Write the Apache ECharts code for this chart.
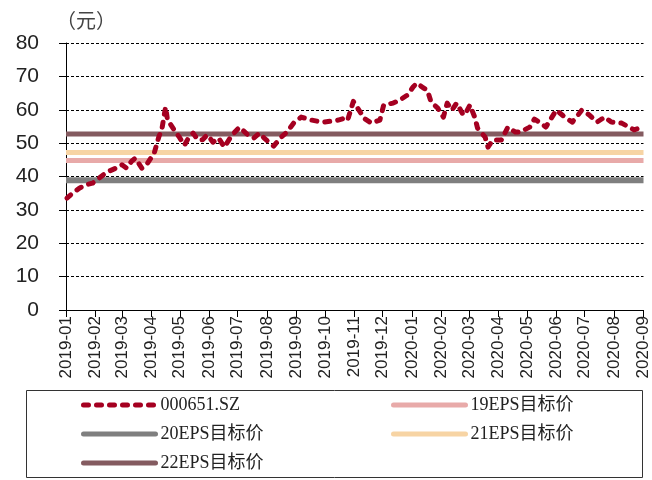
<!DOCTYPE html>
<html>
<head>
<meta charset="utf-8">
<script src="https://cdn.jsdelivr.net/npm/echarts@6/dist/echarts.min.js"></script>
<style>
  html, body { margin: 0; padding: 0; background: #fff; }
  #chart { width: 652px; height: 480px; }
</style>
</head>
<body>
<div id="chart"></div>
<script>
// 股价
const dates = [
  '2019-01-02', '2019-01-08', '2019-01-15', '2019-01-22', '2019-01-29', '2019-02-13', '2019-02-25', '2019-03-01',
  '2019-03-06', '2019-03-11', '2019-03-15', '2019-03-22', '2019-03-28', '2019-04-04', '2019-04-09', '2019-04-12',
  '2019-04-16', '2019-04-18', '2019-04-25', '2019-04-30', '2019-05-06', '2019-05-10', '2019-05-15', '2019-05-20',
  '2019-05-25', '2019-05-30', '2019-06-05', '2019-06-11', '2019-06-17', '2019-06-25', '2019-07-03', '2019-07-12',
  '2019-07-18', '2019-07-24', '2019-07-29', '2019-08-08', '2019-08-16', '2019-08-22', '2019-08-29', '2019-09-06',
  '2019-09-17', '2019-09-24', '2019-09-30', '2019-10-15', '2019-10-22', '2019-10-25', '2019-10-31', '2019-11-08',
  '2019-11-11', '2019-11-19', '2019-11-28', '2019-12-02', '2019-12-12', '2019-12-19', '2019-12-27', '2020-01-02',
  '2020-01-06', '2020-01-13', '2020-01-17', '2020-01-21', '2020-01-28', '2020-02-03', '2020-02-07', '2020-02-12',
  '2020-02-17', '2020-02-24', '2020-02-27', '2020-03-02', '2020-03-07', '2020-03-10', '2020-03-18', '2020-03-21',
  '2020-03-26', '2020-04-04', '2020-04-11', '2020-04-19', '2020-04-24', '2020-05-04', '2020-05-09', '2020-05-14',
  '2020-05-21', '2020-06-01', '2020-06-10', '2020-06-18', '2020-06-28', '2020-07-06', '2020-07-14', '2020-07-22',
  '2020-07-29', '2020-08-09', '2020-08-22', '2020-08-31'
]
const prices = [
  33.5, 35.0, 36.5, 37.5, 38.0, 41.3, 42.8, 43.5,
  42.5, 44.5, 45.5, 42.5, 44.0, 47.0, 52.0, 54.0,
  60.8, 57.0, 54.0, 52.0, 49.4, 51.5, 53.0, 51.0,
  51.0, 52.5, 50.3, 51.5, 48.8, 52.4, 54.8, 52.4,
  51.5, 53.0, 51.5, 49.1, 51.8, 53.3, 56.0, 57.8,
  56.9, 56.5, 56.3, 56.9, 57.5, 56.9, 62.5, 59.0,
  57.5, 56.0, 56.9, 61.4, 62.0, 62.9, 64.4, 66.8,
  68.0, 66.5, 65.9, 62.3, 60.5, 57.8, 62.0, 59.9,
  62.0, 58.4, 59.3, 61.4, 57.8, 54.5, 51.8, 48.8,
  50.9, 50.9, 54.8, 53.3, 53.3, 54.8, 57.2, 56.3,
  54.8, 59.9, 57.8, 56.3, 59.9, 58.4, 56.3, 57.8,
  56.3, 56.0, 54.0, 54.8
]

// 目标价
const target19 = 44.8
const target20 = 38.9
const target21 = 47.2
const target22 = 52.7

const startDate = '2019-01-01'
const endDate = '2020-09-01'

const yTicks = [0, 10, 20, 30, 40, 50, 60, 70, 80]

const chart = echarts.init(document.getElementById('chart'))

const flat = (v) => [[startDate, v], [endDate, v]]
const legendText = { fontFamily: 'Liberation Serif, Noto Sans CJK SC', fontSize: 18, color: '#222' }
const legendBase = {
  orient: 'vertical',
  top: 396,
  padding: 0,
  itemWidth: 72,
  itemHeight: 17,
  itemGap: 11,
  textStyle: legendText,
  itemStyle: { opacity: 0 },
  lineStyle: { width: 5, cap: 'round' }
}

const option = {
  animation: false,
  textStyle: { fontFamily: 'Liberation Sans, Arial, sans-serif' },
  graphic: [
    {
      type: 'text',
      left: 56,
      top: 10,
      style: { text: '（元）', font: '20px "Noto Sans CJK SC"', fill: '#444' }
    },
    {
      type: 'rect',
      shape: { x: 26.5, y: 390.5, width: 616, height: 87 },
      style: { fill: 'none', stroke: '#333', lineWidth: 1 }
    }
  ],
  legend: [
    Object.assign({}, legendBase, {
      data: ['000651.SZ', '20EPS目标价', '22EPS目标价'],
      left: 81
    }),
    Object.assign({}, legendBase, {
      data: ['19EPS目标价', '21EPS目标价'],
      left: 391
    })
  ],
  grid: {
    left: 66,
    right: 8,
    top: 43,
    bottom: 170
  },
  xAxis: {
    type: 'time',
    min: startDate,
    max: endDate,
    splitNumber: 20,
    axisLine: { lineStyle: { color: '#000', width: 1 } },
    axisTick: { show: true, length: 7, lineStyle: { color: '#000' } },
    axisLabel: {
      rotate: 90,
      formatter: '{yyyy}-{MM}',
      fontSize: 17,
      color: '#222',
      margin: 6,
      hideOverlap: false,
      fontWeight: 'normal',
      fontFamily: 'Liberation Sans'
    },
    splitLine: { show: false }
  },
  yAxis: {
    type: 'value',
    min: yTicks[0],
    max: yTicks[yTicks.length - 1],
    interval: 10,
    axisLine: { show: true, lineStyle: { color: '#000', width: 1 } },
    axisTick: { show: true, length: 7, lineStyle: { color: '#000' } },
    axisLabel: { fontSize: 21, color: '#222', margin: 27, fontFamily: 'Liberation Sans' },
    splitLine: { show: true, lineStyle: { color: '#000', type: [3, 2], width: 1 } }
  },
  series: [
    {
      name: '19EPS目标价',
      type: 'line',
      data: flat(target19),
      showSymbol: false,
      symbol: 'none',
      lineStyle: { color: '#e8aaa9', width: 5 },
      itemStyle: { color: '#e8aaa9' },
      z: 2
    },
    {
      name: '20EPS目标价',
      type: 'line',
      data: flat(target20),
      showSymbol: false,
      symbol: 'none',
      lineStyle: { color: '#7f7f7f', width: 6 },
      itemStyle: { color: '#7f7f7f' },
      z: 2
    },
    {
      name: '21EPS目标价',
      type: 'line',
      data: flat(target21),
      showSymbol: false,
      symbol: 'none',
      lineStyle: { color: '#f7d4a4', width: 5 },
      itemStyle: { color: '#f7d4a4' },
      z: 2
    },
    {
      name: '22EPS目标价',
      type: 'line',
      data: flat(target22),
      showSymbol: false,
      symbol: 'none',
      lineStyle: { color: '#845b60', width: 5 },
      itemStyle: { color: '#845b60' },
      z: 2
    },
    {
      name: '000651.SZ',
      type: 'line',
      data: dates.map((d, i) => [d, prices[i]]),
      showSymbol: false,
      symbol: 'none',
      lineStyle: { color: '#a50021', width: 5, type: [5, 8], cap: 'round', join: 'round' },
      itemStyle: { color: '#a50021' },
      z: 3
    }
  ]
}

chart.setOption(option)
</script>
</body>
</html>
